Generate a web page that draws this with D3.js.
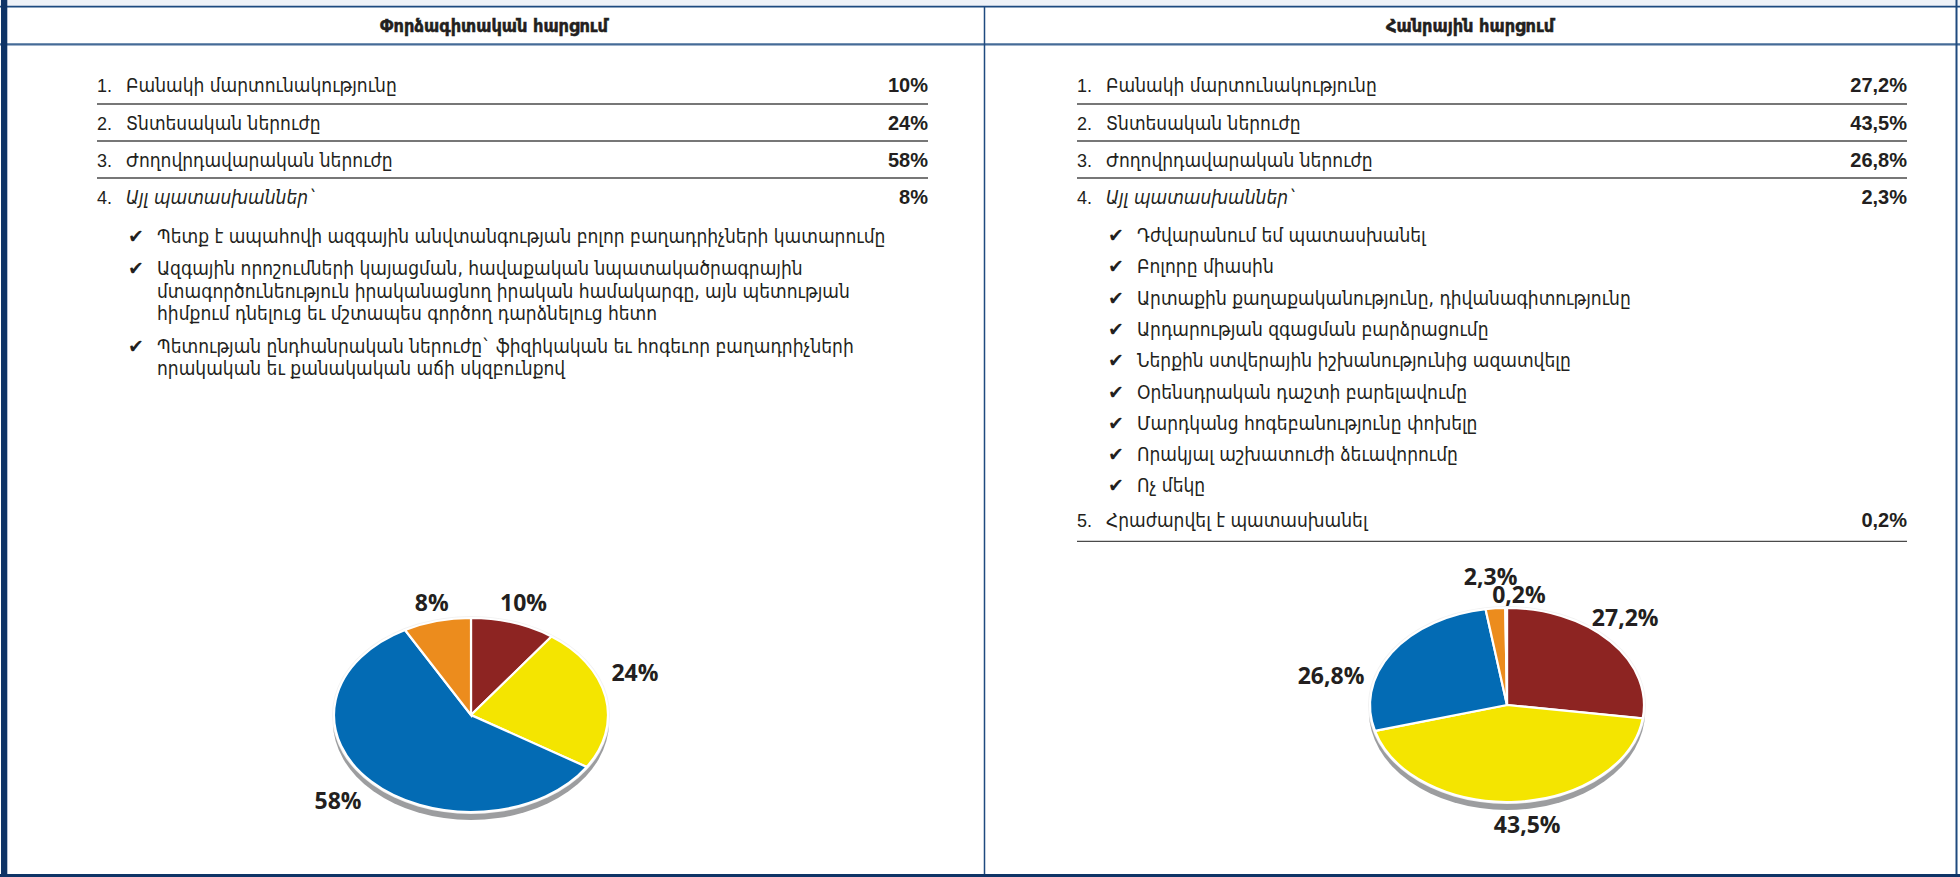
<!DOCTYPE html>
<html>
<head>
<meta charset="utf-8">
<script src="https://cdn.jsdelivr.net/npm/d3@7/dist/d3.min.js"></script>
<style>
  html, body { margin: 0; padding: 0; background: #ffffff; overflow: hidden; }
  svg { display: block; }
</style>
</head>
<body>
<script>
// ---------------- DATA ----------------
const panelTitles = ["Փորձագիտական հարցում", "Հանրային հարցում"];

const expertCategories = ["Բանակի մարտունակությունը", "Տնտեսական ներուժը", "Ժողովրդավարական ներուժը", "Այլ պատասխաններ`"];
const expertValues = [10, 24, 58, 8];
const expertLabels = ["10%", "24%", "58%", "8%"];
const expertOther = [
  ["Պետք է ապահովի ազգային անվտանգության բոլոր բաղադրիչների կատարումը"],
  ["Ազգային որոշումների կայացման, հավաքական նպատակածրագրային",
   "մտագործունեություն իրականացնող իրական համակարգը, այն պետության",
   "հիմքում դնելուց եւ մշտապես գործող դարձնելուց հետո"],
  ["Պետության ընդհանրական ներուժը` ֆիզիկական եւ հոգեւոր բաղադրիչների",
   "որակական եւ քանակական աճի սկզբունքով"]
];

const publicCategories = ["Բանակի մարտունակությունը", "Տնտեսական ներուժը", "Ժողովրդավարական ներուժը", "Այլ պատասխաններ`", "Հրաժարվել է պատասխանել"];
const publicValues = [27.2, 43.5, 26.8, 2.3, 0.2];
const publicLabels = ["27,2%", "43,5%", "26,8%", "2,3%", "0,2%"];
const publicOther = [
  ["Դժվարանում եմ պատասխանել"],
  ["Բոլորը միասին"],
  ["Արտաքին քաղաքականությունը, դիվանագիտությունը"],
  ["Արդարության զգացման բարձրացումը"],
  ["Ներքին ստվերային իշխանությունից ազատվելը"],
  ["Օրենսդրական դաշտի բարելավումը"],
  ["Մարդկանց հոգեբանությունը փոխելը"],
  ["Որակյալ աշխատուժի ձեւավորումը"],
  ["Ոչ մեկը"]
];

// ---------------- STYLE / LAYOUT ----------------
const sliceColors = ["#8d2422", "#f4e500", "#036bb4", "#ec8c1d", "#f4f4f4"];
const textColor = "#231f20";
const armFont = "'DejaVu Sans Condensed', 'DejaVu Sans', sans-serif";
const numFont = "'Liberation Sans', Arial, sans-serif";
const labelFont = "'Open Sans', 'DejaVu Sans', sans-serif";
const bodySize = 19;

const W = 1960, H = 877;
const svg = d3.select("body").append("svg").attr("width", W).attr("height", H);

// ---------------- FRAME ----------------
svg.append("rect").attr("x", 0).attr("y", 0).attr("width", W).attr("height", 6).attr("fill", "#eef2f8");
svg.append("line").attr("x1", 0).attr("x2", W).attr("y1", 6.6).attr("y2", 6.6).attr("stroke", "#1d4a80").attr("stroke-width", 1.6);
svg.append("line").attr("x1", 0).attr("x2", W).attr("y1", 44.4).attr("y2", 44.4).attr("stroke", "#456b97").attr("stroke-width", 2.2);
svg.append("line").attr("x1", 984.5).attr("x2", 984.5).attr("y1", 6).attr("y2", H).attr("stroke", "#1f4a7f").attr("stroke-width", 1.5);
svg.append("line").attr("x1", 1956.5).attr("x2", 1956.5).attr("y1", 0).attr("y2", H).attr("stroke", "#1f4a7f").attr("stroke-width", 2);
svg.append("rect").attr("x", 1).attr("y", 0).attr("width", 6.3).attr("height", H).attr("fill", "#0f3466");
svg.append("rect").attr("x", 0).attr("y", 874).attr("width", W).attr("height", 3).attr("fill", "#0f3466");

// ---------------- PANELS ----------------
const panels = [
  { title: panelTitles[0], cx: 494, cats: expertCategories, vals: expertLabels, other: expertOther,
    numX: 97, textX: 126, valueX: 928, checkX: 128, checkTextX: 157,
    otherStart: 236, otherGap: 32.3, lineGap: 22.5,
    pie: { values: expertValues, labels: expertLabels, cx: 471, cy: 715,
           nudge: [[0, 2], [-3, -19], [-9, 4], [3, 5]] } },
  { title: panelTitles[1], cx: 1470, cats: publicCategories, vals: publicLabels, other: publicOther,
    numX: 1077, textX: 1106, valueX: 1907, checkX: 1108, checkTextX: 1137,
    otherStart: 235, otherGap: 31.3, lineGap: 22.5,
    pie: { values: publicValues, labels: publicLabels, cx: 1507, cy: 705,
           nudge: [[-10, -8], [9, 0], [-33, 36], [-2, -8], [13, 10]] } }
];

const rowY = [85, 123, 160, 197];
const sepY = [104, 141, 178];
const rx = 137, ry = 97;

panels.forEach(p => {
  const g = svg.append("g");
  // title
  g.append("text").attr("x", p.cx).attr("y", 32).attr("text-anchor", "middle")
    .attr("font-family", armFont).attr("font-weight", "bold").attr("font-size", 18)
    .attr("fill", textColor).attr("stroke", textColor).attr("stroke-width", 0.5).text(p.title);

  // main rows 1-4
  const main = p.cats.slice(0, 4);
  main.forEach((c, i) => {
    const y = rowY[i] + 7;
    g.append("text").attr("x", p.numX).attr("y", y).attr("font-family", numFont).attr("font-size", 18)
      .attr("fill", textColor).text((i + 1) + ".");
    g.append("text").attr("x", p.textX).attr("y", y).attr("font-family", armFont).attr("font-size", bodySize)
      .attr("font-style", i === 3 ? "italic" : "normal").attr("fill", textColor).text(c);
    g.append("text").attr("x", p.valueX).attr("y", y).attr("text-anchor", "end").attr("font-family", numFont)
      .attr("font-weight", "bold").attr("font-size", 20).attr("fill", textColor).text(p.vals[i]);
  });
  sepY.forEach(y => {
    g.append("line").attr("x1", p.numX).attr("x2", p.valueX).attr("y1", y).attr("y2", y)
      .attr("stroke", "#4a4a4a").attr("stroke-width", 1.3);
  });

  // other answers (check list)
  let y = p.otherStart;
  let lastY = y;
  p.other.forEach(lines => {
    g.append("text").attr("x", p.checkX).attr("y", y + 7).attr("font-family", "'DejaVu Sans', sans-serif")
      .attr("font-size", 19).attr("fill", textColor).text("✔");
    lines.forEach((ln, j) => {
      g.append("text").attr("x", p.checkTextX).attr("y", y + j * p.lineGap + 7).attr("font-family", armFont)
        .attr("font-size", bodySize).attr("fill", textColor).text(ln);
      lastY = y + j * p.lineGap;
    });
    y += p.otherGap + (lines.length - 1) * p.lineGap;
  });

  // optional row 5
  if (p.cats.length > 4) {
    const y5 = lastY + 35;
    g.append("text").attr("x", p.numX).attr("y", y5 + 7).attr("font-family", numFont).attr("font-size", 18)
      .attr("fill", textColor).text("5.");
    g.append("text").attr("x", p.textX).attr("y", y5 + 7).attr("font-family", armFont).attr("font-size", bodySize)
      .attr("fill", textColor).text(p.cats[4]);
    g.append("text").attr("x", p.valueX).attr("y", y5 + 7).attr("text-anchor", "end").attr("font-family", numFont)
      .attr("font-weight", "bold").attr("font-size", 20).attr("fill", textColor).text(p.vals[4]);
    g.append("line").attr("x1", p.numX).attr("x2", p.valueX).attr("y1", y5 + 21).attr("y2", y5 + 21)
      .attr("stroke", "#4a4a4a").attr("stroke-width", 1.3);
  }

  // pie
  const pd = p.pie;
  const pieGen = d3.pie().sort(null).value(d => d);
  const arcs = pieGen(pd.values);
  const arc = d3.arc().innerRadius(0).outerRadius(rx);
  const labelArc = d3.arc().innerRadius(170).outerRadius(170);
  const pg = svg.append("g").attr("transform", `translate(${pd.cx},${pd.cy})`);
  pg.append("ellipse").attr("cx", 0).attr("cy", 7).attr("rx", rx + 1).attr("ry", ry + 1).attr("fill", "#9c9d9f");
  pg.append("ellipse").attr("cx", 0).attr("cy", 0).attr("rx", rx + 2).attr("ry", ry + 2).attr("fill", "#f2f2f2");
  const sg = pg.append("g").attr("transform", `scale(1,${ry / rx})`);
  sg.selectAll("path").data(arcs).enter().append("path")
    .attr("d", arc)
    .attr("fill", (d, i) => sliceColors[i])
    .attr("stroke", "#ffffff").attr("stroke-width", 2.2)
    .attr("vector-effect", "non-scaling-stroke");

  arcs.forEach((a, i) => {
    const c = labelArc.centroid(a);
    const lx = c[0] + pd.nudge[i][0];
    const ly = c[1] * ry / rx + pd.nudge[i][1];
    pg.append("text").attr("x", lx).attr("y", ly + 8).attr("text-anchor", "middle")
      .attr("font-family", labelFont).attr("font-weight", "bold").attr("font-size", 23)
      .attr("fill", "#231f20").text(pd.labels[i]);
  });
});
</script>
</body>
</html>
